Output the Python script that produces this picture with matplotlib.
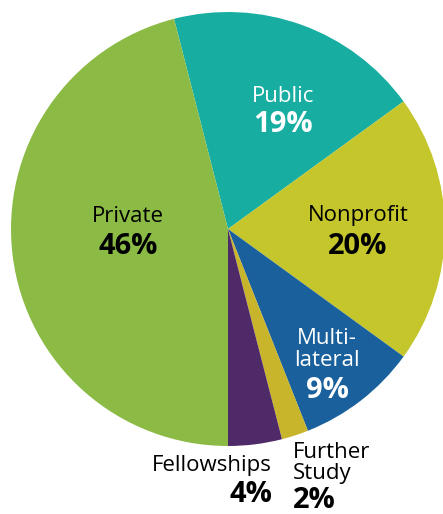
import matplotlib.pyplot as plt

labels = ["Public", "Nonprofit", "Multi-\nlateral", "Further\nStudy", "Fellowships", "Private"]
shares = [19, 20, 9, 2, 4, 46]
colors = ["#17aea1", "#c4c62b", "#1a609c", "#c8b52c", "#4f2a68", "#8bbb45"]
text_colors = ["white", "black", "white", "black", "black", "black"]

plt.rcParams['font.family'] = ['Open Sans', 'DejaVu Sans']

fig = plt.figure(figsize=(4.43, 5.14), dpi=100)
ax = fig.add_axes([0, 0, 1, 1])

cx, cy, r = 228, 514 - 229, 217
ax.pie(shares, colors=colors, startangle=104.4, counterclock=False,
       center=(cx, cy), radius=r, frame=True,
       wedgeprops=dict(linewidth=0))
ax.set_xlim(0, 443)
ax.set_ylim(0, 514)
ax.set_aspect('equal')
ax.axis('off')

# label lines (x, y of each name line, y of pct) in pixels from top-left
spots = {
    "Public": (283, [96], 125, 'center'),
    "Nonprofit": (358, [216], 246, 'center'),
    "Multi-\nlateral": (327, [338, 361], 390, 'center'),
    "Further\nStudy": (293, [452, 474], 501, 'left'),
    "Fellowships": (272, [466], 494, 'right'),
    "Private": (128, [216], 246, 'center'),
}

for lab, val, tc in zip(labels, shares, text_colors):
    x, ys, py, ha = spots[lab]
    for line, y in zip(lab.split("\n"), ys):
        ax.text(x, 514 - y, line, ha=ha, va='center', color=tc, fontsize=16)
    ax.text(x, 514 - py, f"{val}%", ha=ha, va='center', color=tc,
            fontsize=21, fontweight='bold')

fig.savefig("out.png", dpi=100)
